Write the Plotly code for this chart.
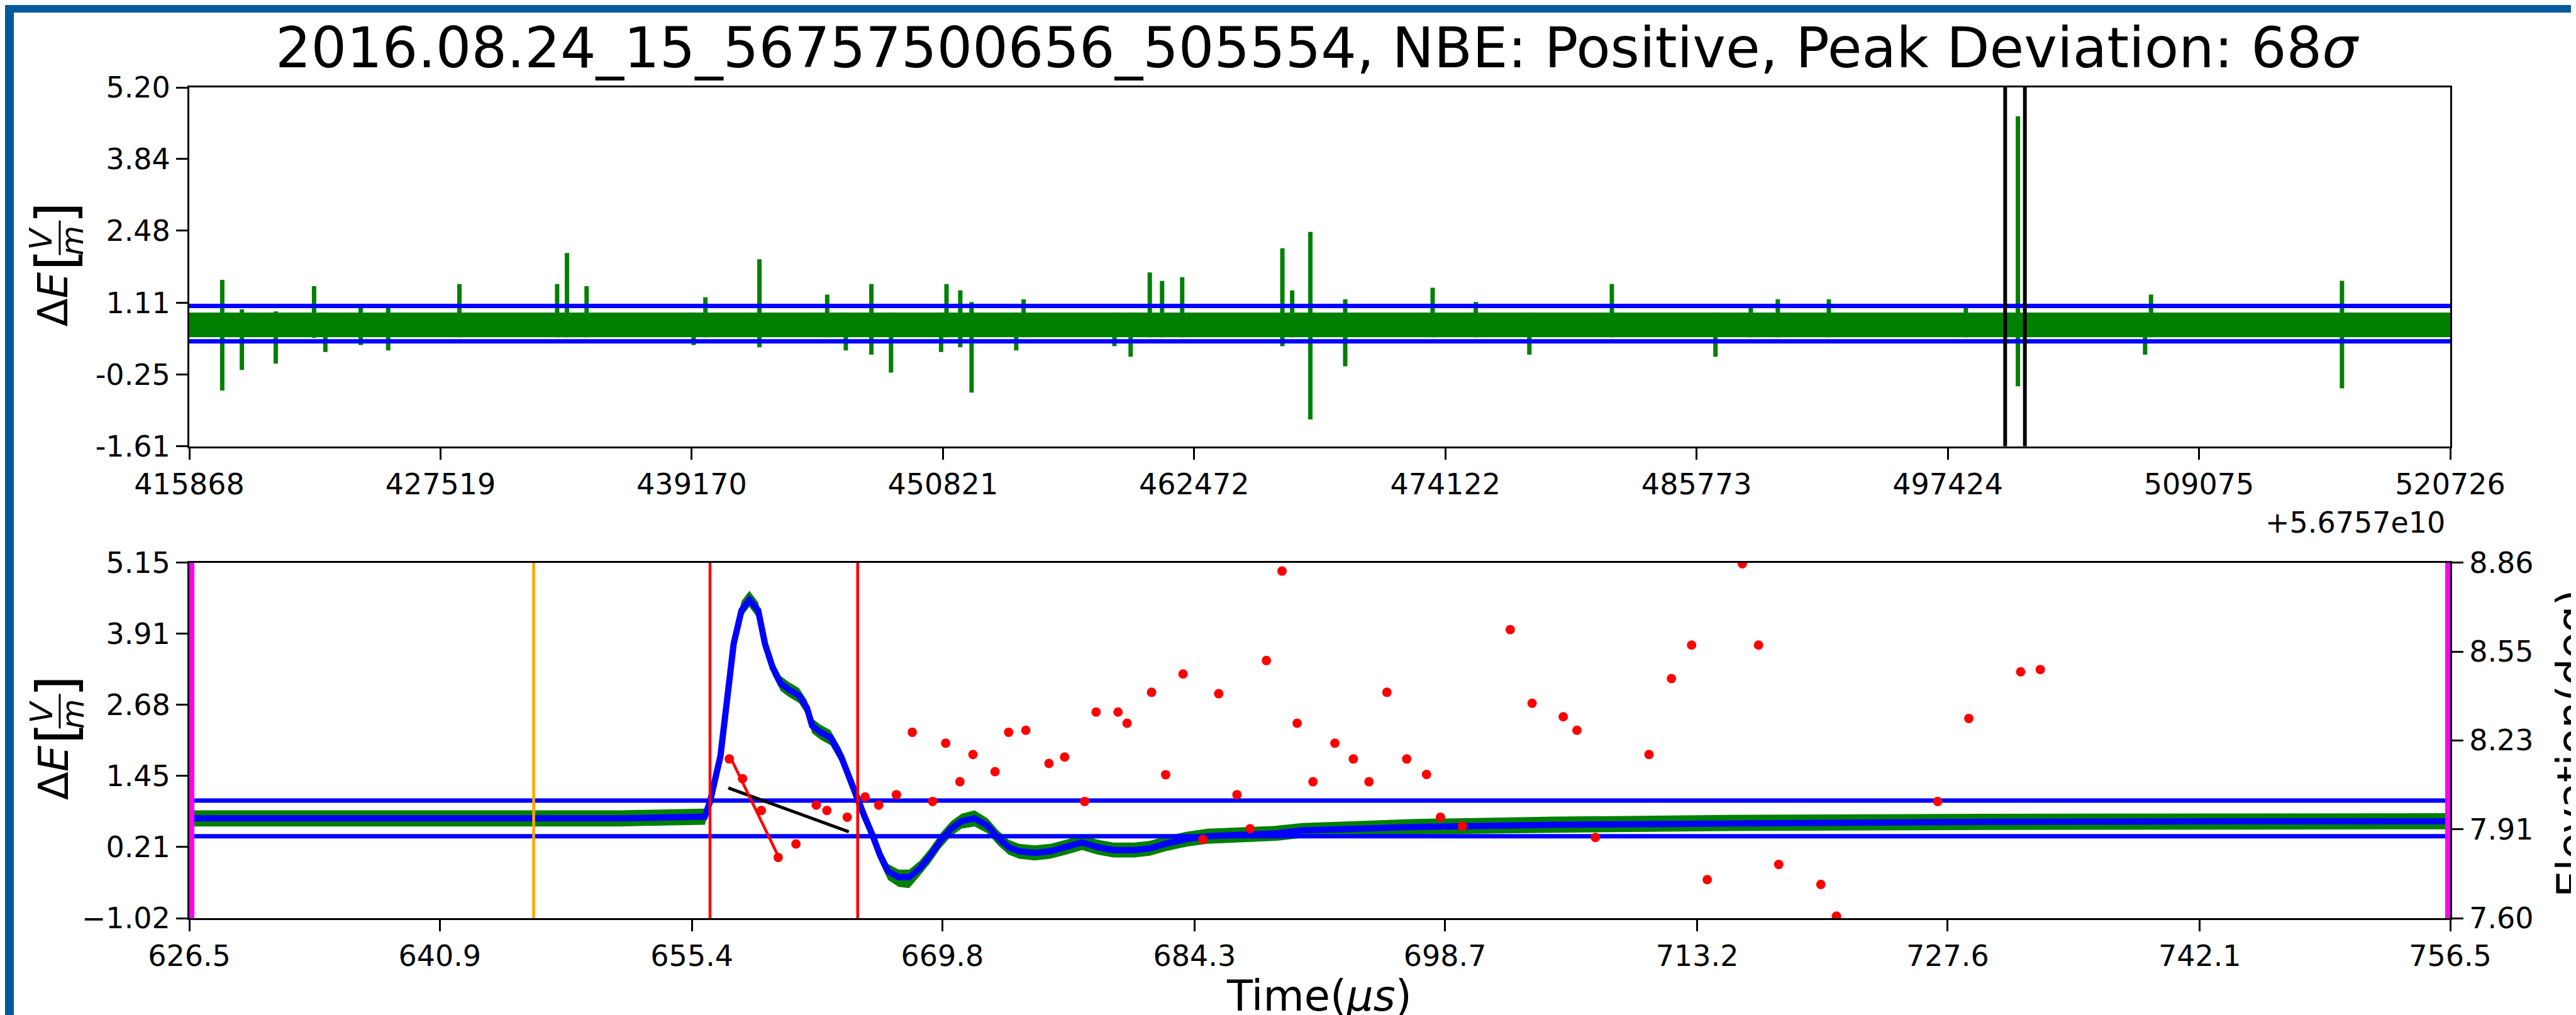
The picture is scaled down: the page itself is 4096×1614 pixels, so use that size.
import numpy as np
import plotly.graph_objects as go

# ---------------- data ----------------
# top panel (x in units offset by +5.6757e10)
top_xrange = [415868, 520726]
top_xticks = [415868, 427519, 439170, 450821, 462472, 474122, 485773, 497424, 509075, 520726]
top_yticks = [-1.61, -0.25, 1.11, 2.48, 3.84, 5.20]
top_ytick_text = ["-1.61", "-0.25", "1.11", "2.48", "3.84", "5.20"]
top_band_x = [415868, 520726]
top_band_hi = [0.93, 0.93]
top_band_lo = [0.46, 0.46]
top_thresholds = [1.054, 0.382]
top_window = [500085, 501000]
spike_x = [417396, 418307, 419878, 421655, 422178, 423818, 425093, 428395, 432927, 433383,
           434294, 439258, 439805, 442310, 445452, 446317, 447502, 448413, 450735, 450986,
           451624, 452148, 454220, 454562, 458775, 459526, 460414, 460984, 461917, 466563,
           467018, 467861, 469478, 473532, 475535, 478018, 481844, 486649, 488289, 489541,
           491908, 498263, 500677, 506575, 506849, 515706]
spike_top = [1.55, 0.99, 0.95, 1.43, 0.93, 1.02, 1.02, 1.47, 1.47, 2.06,
             1.43, 0.93, 1.22, 1.94, 1.27, 0.93, 1.47, 0.93, 0.93, 1.47,
             1.35, 1.13, 0.93, 1.18, 0.93, 0.93, 1.69, 1.53, 1.60, 2.15,
             1.35, 2.46, 1.18, 1.40, 1.13, 0.93, 1.47, 0.93, 1.02, 1.18,
             1.18, 1.02, 4.65, 0.93, 1.27, 1.53]
spike_bot = [-0.55, -0.16, -0.04, 0.45, 0.18, 0.31, 0.21, 0.46, 0.46, 0.46,
             0.46, 0.31, 0.46, 0.27, 0.46, 0.21, 0.13, -0.21, 0.18, 0.46,
             0.27, -0.59, 0.21, 0.46, 0.29, 0.09, 0.46, 0.46, 0.46, 0.29,
             0.46, -1.10, -0.09, 0.46, 0.46, 0.13, 0.46, 0.09, 0.46, 0.46,
             0.46, 0.46, -0.47, 0.13, 0.46, -0.51]

# bottom panel
bot_xrange = [626.5, 756.5]
bot_xticks = [626.5, 640.9, 655.4, 669.8, 684.3, 698.7, 713.2, 727.6, 742.1, 756.5]
bot_yrange = [-1.022, 5.148]
bot_yticks = [-1.022, 0.212, 1.446, 2.680, 3.914, 5.148]
bot_ytick_text = ["\u22121.02", "0.21", "1.45", "2.68", "3.91", "5.15"]
elev_range = [7.598, 8.862]
elev_ticks = [7.598, 7.914, 8.230, 8.546, 8.862]
elev_tick_text = ["7.60", "7.91", "8.23", "8.55", "8.86"]
bot_thresholds = [1.018, 0.399]

sig_t = [626.5, 635.0, 645.0, 651.3, 656.14, 656.44, 657.04, 657.49, 657.80, 658.25,
         658.70, 659.21, 659.60, 660.05, 660.51, 660.96, 661.56, 662.01, 662.31, 662.77,
         663.37, 663.97, 664.42, 664.87, 665.33, 665.78, 666.23, 666.68, 667.28, 667.89,
         668.49, 669.09, 669.69, 670.30, 670.90, 671.65, 672.40, 673.01, 673.61, 674.21,
         675.12, 676.02, 676.92, 677.83, 678.73, 679.63, 680.84, 681.74, 682.65, 683.85,
         685.05, 686.86, 688.97, 690.48, 693.49, 697.0, 705.0, 715.0, 730.0, 745.0, 756.5]
sig_v = [0.71, 0.71, 0.71, 0.71, 0.74, 1.00, 1.79, 2.95, 3.74, 4.32,
         4.50, 4.32, 3.74, 3.32, 3.05, 2.95, 2.84, 2.63, 2.32, 2.21,
         2.11, 1.79, 1.42, 1.06, 0.74, 0.42, 0.06, -0.21, -0.31, -0.31,
         -0.16, 0.06, 0.32, 0.53, 0.66, 0.71, 0.58, 0.37, 0.21, 0.14,
         0.11, 0.14, 0.21, 0.29, 0.21, 0.16, 0.16, 0.19, 0.27, 0.35,
         0.40, 0.42, 0.45, 0.50, 0.53, 0.56, 0.60, 0.63, 0.65, 0.66, 0.66]
sig_hi = [0.85, 0.85, 0.85, 0.85, 0.88, 1.12, 1.90, 3.06, 3.86, 4.48,
          4.66, 4.46, 3.88, 3.45, 3.18, 3.08, 2.97, 2.76, 2.45, 2.34,
          2.24, 1.92, 1.55, 1.19, 0.87, 0.55, 0.19, -0.08, -0.18, -0.18,
          -0.03, 0.19, 0.45, 0.66, 0.79, 0.85, 0.71, 0.50, 0.34, 0.27,
          0.24, 0.27, 0.34, 0.42, 0.34, 0.29, 0.29, 0.32, 0.40, 0.48,
          0.53, 0.55, 0.58, 0.63, 0.66, 0.70, 0.74, 0.77, 0.79, 0.80, 0.80]
sig_lo = [0.57, 0.57, 0.57, 0.57, 0.60, 0.88, 1.68, 2.84, 3.62, 4.20,
          4.38, 4.18, 3.60, 3.19, 2.92, 2.82, 2.71, 2.50, 2.19, 2.08,
          1.98, 1.66, 1.29, 0.93, 0.61, 0.29, -0.07, -0.36, -0.48, -0.50,
          -0.29, -0.07, 0.19, 0.40, 0.53, 0.57, 0.45, 0.24, 0.08, 0.01,
          -0.02, 0.01, 0.08, 0.16, 0.08, 0.03, 0.03, 0.06, 0.14, 0.22,
          0.27, 0.29, 0.32, 0.37, 0.40, 0.43, 0.46, 0.49, 0.51, 0.52, 0.52]

elev_t = [657.55, 658.31, 659.39, 660.36, 661.38, 662.55, 663.16, 664.33, 665.36, 666.14,
          667.16, 668.07, 669.24, 669.99, 670.81, 671.56, 672.83, 673.61, 674.60, 675.93,
          676.83, 677.98, 678.64, 679.90, 680.42, 681.83, 682.64, 683.64, 684.78, 685.69,
          686.74, 687.49, 688.43, 689.33, 690.20, 691.11, 692.37, 693.43, 694.33, 695.36,
          696.50, 697.64, 698.44, 699.70, 702.45, 703.71, 705.50, 706.29, 707.35, 710.43,
          711.72, 712.88, 713.78, 715.80, 716.73, 717.89, 720.31, 721.21, 727.03, 728.82,
          731.80, 732.93]
elev_v = [8.164, 8.094, 7.981, 7.814, 7.862, 8.000, 7.981, 7.957, 8.029, 8.000,
          8.037, 8.259, 8.013, 8.220, 8.083, 8.180, 8.119, 8.259, 8.266, 8.148,
          8.171, 8.013, 8.331, 8.331, 8.291, 8.401, 8.108, 8.466, 7.878, 8.396,
          8.037, 7.916, 8.514, 8.832, 8.291, 8.083, 8.220, 8.164, 8.083, 8.401,
          8.164, 8.109, 7.957, 7.925, 8.624, 8.362, 8.314, 8.266, 7.885, 8.180,
          8.450, 8.569, 7.735, 8.858, 8.569, 7.789, 7.718, 7.605, 8.013, 8.308,
          8.474, 8.482]
elev_fit_t = [657.55, 660.36]
elev_fit_v = [8.178, 7.819]
black_fit_t = [657.49, 664.42]
black_fit_v = [8.061, 7.905]
red_marks = [656.44, 664.93]
orange_mark = [646.3]
magenta_marks = [626.5, 756.5]

# ---------------- layout helpers ----------------
W, H = 4096, 1614
ML, MR, MT, MB = 293, 208, 131, 162
PW = W - ML - MR
PH = H - MT - MB


def fx(px):
    return (px - ML) / PW


def fy(py):
    return (H - MB - py) / PH


FONT = "DejaVu Sans"
GREEN = "#008000"
BLUE = "#0000ff"

fig = go.Figure()

# ---- top panel ----
fig.add_trace(go.Scatter(x=top_band_x, y=top_band_lo, mode="lines", line=dict(width=0, color=GREEN),
                         xaxis="x", yaxis="y", showlegend=False, hoverinfo="skip"))
fig.add_trace(go.Scatter(x=top_band_x, y=top_band_hi, mode="lines", line=dict(width=0, color=GREEN),
                         fill="tonexty", fillcolor=GREEN, xaxis="x", yaxis="y", showlegend=False,
                         hoverinfo="skip"))
sx, sy = [], []
for x, t, b in zip(spike_x, spike_top, spike_bot):
    sx += [x, x, None]
    sy += [b, t, None]
fig.add_trace(go.Scatter(x=sx, y=sy, mode="lines", line=dict(width=7, color=GREEN),
                         xaxis="x", yaxis="y", showlegend=False))
for thr in top_thresholds:
    fig.add_trace(go.Scatter(x=top_xrange, y=[thr, thr], mode="lines", line=dict(width=7, color=BLUE),
                             xaxis="x", yaxis="y", showlegend=False))
for wx in top_window:
    fig.add_trace(go.Scatter(x=[wx, wx], y=[-1.61, 5.20], mode="lines", line=dict(width=6, color="black"),
                             xaxis="x", yaxis="y", showlegend=False))

# ---- bottom panel ----
fig.add_trace(go.Scatter(x=sig_t, y=sig_lo, mode="lines", line=dict(width=0, color=GREEN),
                         xaxis="x2", yaxis="y2", showlegend=False))
fig.add_trace(go.Scatter(x=sig_t, y=sig_hi, mode="lines", line=dict(width=0, color=GREEN),
                         fill="tonexty", fillcolor=GREEN, xaxis="x2", yaxis="y2", showlegend=False))
fig.add_trace(go.Scatter(x=sig_t, y=sig_v, mode="lines", line=dict(width=10, color=BLUE),
                         xaxis="x2", yaxis="y2", showlegend=False))
for thr in bot_thresholds:
    fig.add_trace(go.Scatter(x=bot_xrange, y=[thr, thr], mode="lines", line=dict(width=7, color=BLUE),
                             xaxis="x2", yaxis="y2", showlegend=False))
for m in red_marks:
    fig.add_trace(go.Scatter(x=[m, m], y=bot_yrange, mode="lines", line=dict(width=4.5, color="red"),
                             xaxis="x2", yaxis="y2", showlegend=False))
for m in orange_mark:
    fig.add_trace(go.Scatter(x=[m, m], y=bot_yrange, mode="lines", line=dict(width=4.5, color="orange"),
                             xaxis="x2", yaxis="y2", showlegend=False))
for m in magenta_marks:
    fig.add_trace(go.Scatter(x=[m, m], y=bot_yrange, mode="lines", line=dict(width=16, color="magenta"),
                             xaxis="x2", yaxis="y2", showlegend=False))
fig.add_trace(go.Scatter(x=black_fit_t, y=black_fit_v, mode="lines", line=dict(width=5, color="black"),
                         xaxis="x2", yaxis="y3", showlegend=False))
fig.add_trace(go.Scatter(x=elev_fit_t, y=elev_fit_v, mode="lines", line=dict(width=4.5, color="red"),
                         xaxis="x2", yaxis="y3", showlegend=False))
fig.add_trace(go.Scatter(x=elev_t, y=elev_v, mode="markers", marker=dict(size=15, color="red"),
                         cliponaxis=True, xaxis="x2", yaxis="y3", showlegend=False))

axis_common = dict(showline=True, linecolor="black", linewidth=3, mirror=True, ticks="outside",
                   ticklen=18, tickwidth=3, tickcolor="black", showgrid=False, zeroline=False,
                   tickfont=dict(family=FONT, size=46, color="black"))

top_dom = [fy(701.8), 1.0]
bot_dom = [0.0, fy(886.7)]

fig.update_layout(
    width=W, height=H,
    margin=dict(l=ML, r=MR, t=MT, b=MB),
    paper_bgcolor="white", plot_bgcolor="white",
    showlegend=False,
    xaxis=dict(axis_common, domain=[0, 1], range=top_xrange, tickvals=top_xticks,
               ticktext=[str(v) for v in top_xticks], anchor="y"),
    yaxis=dict(axis_common, domain=top_dom, range=[-1.61, 5.20], tickvals=top_yticks,
               ticktext=top_ytick_text, anchor="x"),
    xaxis2=dict(axis_common, domain=[0, 1], range=bot_xrange, tickvals=bot_xticks,
                ticktext=["%.1f" % v for v in bot_xticks], anchor="y2"),
    yaxis2=dict(axis_common, domain=bot_dom, range=bot_yrange, tickvals=bot_yticks,
                ticktext=bot_ytick_text, anchor="x2"),
    yaxis3=dict(axis_common, overlaying="y2", side="right", range=elev_range, tickvals=elev_ticks,
                ticktext=elev_tick_text, anchor="x2", mirror=False),
)

ann = []
ann.append(dict(text="2016.08.24_15_56757500656_505554, NBE: Positive, Peak Deviation: 68<i>σ</i>",
                x=fx(2086), y=fy(68), xref="paper", yref="paper", xanchor="center", yanchor="middle",
                showarrow=False, font=dict(family=FONT, size=89, color="black")))
ann.append(dict(text="+5.6757e10", x=fx(3882), y=fy(823), xref="paper", yref="paper",
                xanchor="right", yanchor="middle", showarrow=False,
                font=dict(family=FONT, size=46, color="black")))
ann.append(dict(text="Time(<i>μs</i>)", x=fx(2089), y=fy(1576), xref="paper", yref="paper",
                xanchor="center", yanchor="middle", showarrow=False,
                font=dict(family=FONT, size=67, color="black")))
ann.append(dict(text="Elevation(deg)", x=fx(4083), y=fy(1174), xref="paper", yref="paper",
                xanchor="center", yanchor="middle", showarrow=False, textangle=-90,
                font=dict(family=FONT, size=67, color="black")))

shapes = []
for cy in [416.6, 1169.3]:
    parts = [("Δ<i>E</i>", 77, 52, 66), ("[", 81, -11, 88), ("<i>V</i>", 58, -45, 49),
             ("<i>m</i>", 108, -42, 49), ("]", 81, -86, 88)]
    for txt, x, dy, fs in parts:
        ann.append(dict(text=txt, x=fx(x), y=fy(cy + dy), xref="paper", yref="paper",
                        xanchor="center", yanchor="middle", showarrow=False, textangle=-90,
                        font=dict(family=FONT, size=fs, color="black")))
    shapes.append(dict(type="line", xref="paper", yref="paper", x0=fx(87), x1=fx(87),
                       y0=fy(cy - 74), y1=fy(cy - 19), line=dict(color="black", width=3)))

# window frame (blue border of the screenshot)
FR = "#005a9e"
shapes.append(dict(type="rect", xref="paper", yref="paper", x0=fx(0), x1=fx(W), y0=fy(0), y1=fy(12),
                   fillcolor=FR, line=dict(width=0), layer="above"))
shapes.append(dict(type="rect", xref="paper", yref="paper", x0=fx(0), x1=fx(14), y0=fy(0), y1=fy(H),
                   fillcolor=FR, line=dict(width=0), layer="above"))
shapes.append(dict(type="rect", xref="paper", yref="paper", x0=fx(0), x1=fx(W), y0=fy(H - 3), y1=fy(H),
                   fillcolor=FR, line=dict(width=0), layer="above"))

fig.update_layout(annotations=ann, shapes=shapes)
fig.write_html("out.html")
